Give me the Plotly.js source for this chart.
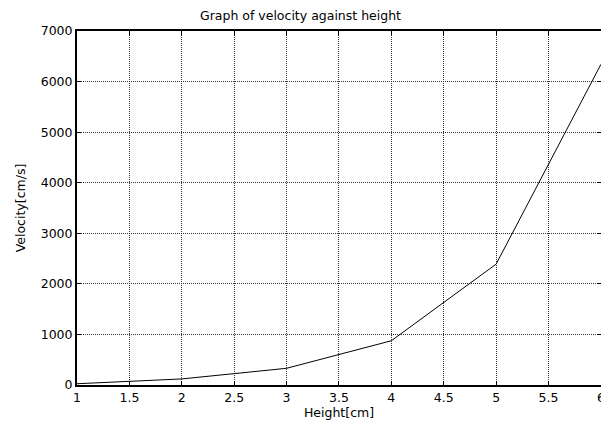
<!DOCTYPE html>
<html>
<head>
<script src="https://cdn.plot.ly/plotly-3.0.1.min.js"></script>
<style>html,body{margin:0;padding:0;background:#fff;}#chart{width:601px;height:424px;}</style>
</head>
<body>
<div id="chart"></div>
<script>
const heights = [1, 2, 3, 4, 5, 6];
const velocities = [25, 120, 330, 875, 2390, 6340];
const xTicks = [1, 1.5, 2, 2.5, 3, 3.5, 4, 4.5, 5, 5.5, 6];
const yTicks = [0, 1000, 2000, 3000, 4000, 5000, 6000, 7000];

const font = {family: 'DejaVu Sans, sans-serif', size: 12.5, color: '#000'};
const axisCommon = {
  showline: true, linecolor: '#000', linewidth: 2, mirror: 'ticks',
  ticks: 'inside', ticklen: 4, tickcolor: '#000', tickwidth: 1,
  showgrid: true, gridcolor: '#333', griddash: '1px,1px', gridwidth: 1,
  zeroline: false, tickfont: font, ticklabeloverflow: 'allow'
};
Plotly.newPlot('chart', [{
  x: heights, y: velocities, type: 'scatter', mode: 'lines',
  line: {color: '#000', width: 1}
}], {
  width: 601, height: 424,
  margin: {l: 77, r: 0, t: 31, b: 39},
  paper_bgcolor: '#fff', plot_bgcolor: '#fff',
  showlegend: false,
  title: {text: 'Graph of velocity against height', font: font, x: 0.5, xanchor: 'center', y: 0.962, yanchor: 'middle'},
  xaxis: Object.assign({}, axisCommon, {
    range: [1, 6.001], tickvals: xTicks, ticktext: xTicks.map(String),
    title: {text: 'Height[cm]', font: font, standoff: 0}
  }),
  yaxis: Object.assign({}, axisCommon, {
    range: [0, 7000], tickvals: yTicks, ticktext: yTicks.map(String),
    title: {text: 'Velocity[cm/s]', font: font, standoff: 12}
  })
}, {displayModeBar: false, staticPlot: true});
</script>
</body>
</html>
